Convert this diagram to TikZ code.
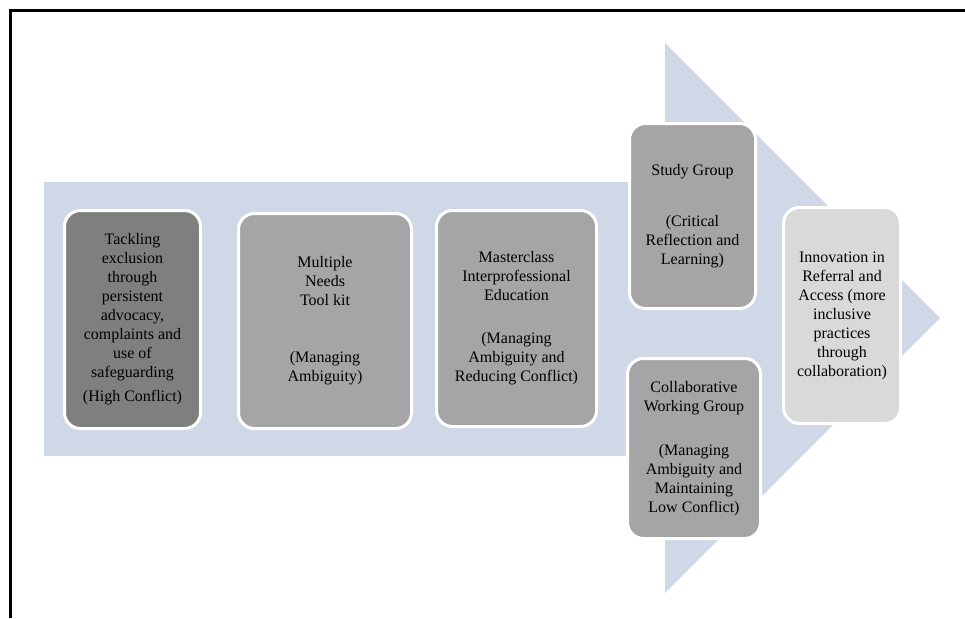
\documentclass[tikz,border=0pt]{standalone}
\usepackage{fontspec}
\setmainfont{Liberation Serif}
\usetikzlibrary{shapes,positioning}
\definecolor{arrowbg}{HTML}{D0D8E8}
\definecolor{darkstage}{HTML}{7F7F7F}
\definecolor{midstage}{HTML}{A5A5A5}
\definecolor{lightstage}{HTML}{D9D9D9}
\tikzstyle{stage} = [draw=white, line width=3pt, rounded corners=16pt, align=center, inner sep=2pt, font=\fontsize{16}{19}\selectfont, text=black]
\tikzstyle{frameline} = [line width=3pt, black]

\begin{document}
\begin{tikzpicture}[x=1pt, y=-1pt]
	\useasboundingbox (0,0) rectangle (965,618);

	% FRAME
	\draw [frameline] (10,618) -- (10,11) -- (965,11);

	% BIG ARROW
	\fill [arrowbg] (44,182) -- (665,182) -- (665,43) -- (940,318) -- (665,593) -- (665,456) -- (44,456) -- cycle;

	% STAGES
	\node [stage, fill=darkstage, minimum width=136pt, minimum height=218pt] (tackling) at (132.5,319.5) {Tackling\\exclusion\\through\\persistent\\advocacy,\\complaints and\\use of\\safeguarding\\[5pt](High Conflict)};
	\node [stage, fill=midstage, minimum width=173pt, minimum height=215pt] (toolkit) at (325,321) {Multiple\\Needs\\Tool kit\\[38pt](Managing\\Ambiguity)};
	\node [stage, fill=midstage, minimum width=160pt, minimum height=216pt] (masterclass) at (516.5,318.5) {Masterclass\\Interprofessional\\Education\\[24pt](Managing\\Ambiguity and\\Reducing Conflict)};

	% SPLIT
	\node [stage, fill=midstage, minimum width=126pt, minimum height=185pt] (study) at (692.5,216) {Study Group\\[32pt](Critical\\Reflection and\\Learning)};
	\node [stage, fill=midstage, minimum width=133pt, minimum height=180pt] (collab) at (694,448.5) {Collaborative\\Working Group\\[25pt](Managing\\Ambiguity and\\Maintaining\\Low Conflict)};

	% OUTCOME
	\node [stage, fill=lightstage, minimum width=117pt, minimum height=216pt] (innovation) at (842,315.5) {Innovation in\\Referral and\\Access (more\\inclusive\\practices\\through\\collaboration)};

\end{tikzpicture}
\end{document}
